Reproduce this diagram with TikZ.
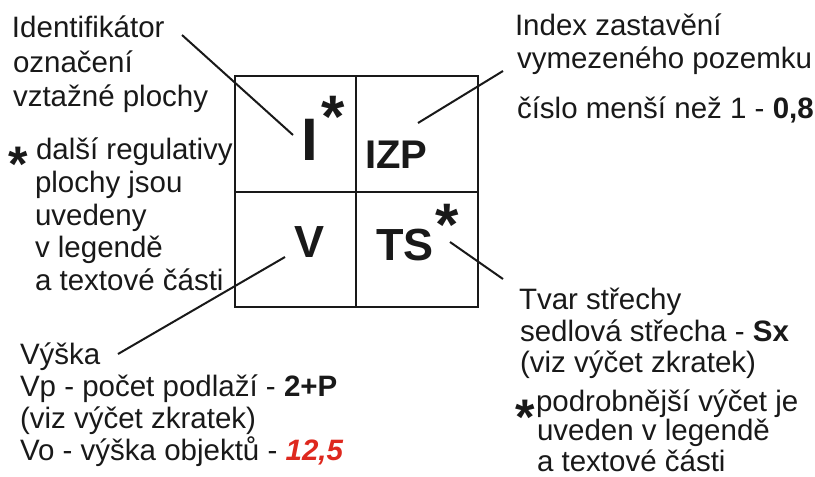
\documentclass[tikz,border=0pt]{standalone}
\usepackage{fontspec}
\setmainfont{Liberation Sans}
\definecolor{txt}{RGB}{25,25,25}
\definecolor{redval}{RGB}{222,40,30}
\begin{document}
\begin{tikzpicture}[x=1pt,y=-1pt,
  lbl/.style={anchor=base west,inner sep=0pt,outer sep=0pt,text=txt,font=\fontsize{29.5}{33}\selectfont},
  cell/.style={anchor=base,inner sep=0pt,outer sep=0pt,text=txt},
  starbig/.style={anchor=base,inner sep=0pt,outer sep=0pt,text=txt,font=\fontsize{60}{60}\selectfont\bfseries},
  starsmall/.style={anchor=base,inner sep=0pt,outer sep=0pt,text=txt,font=\fontsize{50}{50}\selectfont\bfseries},
  frame/.style={draw=txt,line width=2pt},
  leader/.style={draw=txt,line width=2pt}]
\useasboundingbox (0,0) rectangle (815,477);
% grid
\draw[frame] (235,76) rectangle (478,307);
\draw[frame] (356,76) -- (356,307);
\draw[frame] (235,192) -- (478,192);
% cell texts
\node[cell,font=\fontsize{60}{60}\selectfont\bfseries] (cI) at (309.5,160) {I};
\node[starbig] (sI) at (333,137) {*};
\node[cell,anchor=base west,font=\fontsize{40}{40}\selectfont\bfseries] (cIZP) at (365,168) {IZP};
\node[cell,font=\fontsize{45}{45}\selectfont\bfseries] (cV) at (310,257) {V};
\node[cell,anchor=base west,font=\fontsize{45}{45}\selectfont\bfseries] (cTS) at (376,260) {TS};
\node[starbig] (sTS) at (447,245) {*};
% top-left
\node[lbl] (t1) at (12,37) {Identifikátor};
\node[lbl] (t2) at (13,72) {označení};
\node[lbl] (t3) at (13,106) {vztažné plochy};
% left star block
\node[starsmall] (s1) at (18,181) {*};
\node[lbl] (r1) at (36,159) {další regulativy};
\node[lbl] (r2) at (35,192) {plochy jsou};
\node[lbl] (r3) at (35,225) {uvedeny};
\node[lbl] (r4) at (35,257) {v legendě};
\node[lbl] (r5) at (35,290) {a textové části};
% top-right
\node[lbl] (i1) at (515,35) {Index zastavění};
\node[lbl] (i2) at (517,68) {vymezeného pozemku};
\node[lbl] (i3) at (517,118) {číslo menší než 1 - \textbf{0,8}};
% bottom-left
\node[lbl] (v1) at (20,364) {Výška};
\node[lbl] (v2) at (20,396) {Vp - počet podlaží - \textbf{2+P}};
\node[lbl] (v3) at (20,428) {(viz výčet zkratek)};
\node[lbl] (v4) at (20,460) {Vo - výška objektů - \textcolor{redval}{\bfseries\itshape 12,5}};
% bottom-right
\node[lbl] (w1) at (519,309) {Tvar střechy};
\node[lbl] (w2) at (520,341) {sedlová střecha - \textbf{Sx}};
\node[lbl] (w3) at (520,372) {(viz výčet zkratek)};
\node[starsmall] (s2) at (525,434) {*};
\node[lbl] (w4) at (536,411) {podrobnější výčet je};
\node[lbl] (w5) at (537,440) {uveden v legendě};
\node[lbl] (w6) at (537,471) {a textové části};
% leader line end points
\coordinate (a1) at (182,35);
\coordinate (a2) at (293,135);
\coordinate (b1) at (418,123);
\coordinate (b2) at (503,71);
\coordinate (c1) at (285,257);
\coordinate (c2) at (118,354);
\coordinate (d1) at (450,242);
\coordinate (d2) at (503,279);
\draw[leader] (a1) -- (a2);
\draw[leader] (b1) -- (b2);
\draw[leader] (c1) -- (c2);
\draw[leader] (d1) -- (d2);
\end{tikzpicture}
\end{document}
